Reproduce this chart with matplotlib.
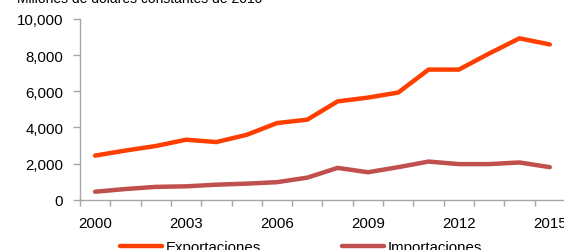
import matplotlib
matplotlib.use('Agg')
import matplotlib.pyplot as plt
import matplotlib.ticker as ticker
from matplotlib.lines import Line2D

plt.rcParams['font.family'] = ['Liberation Sans', 'DejaVu Sans']

# Daten (Millones de dólares constantes de 2010)
anios = list(range(2000, 2016))
exportaciones = [2440, 2720, 2970, 3320, 3190, 3590, 4240, 4430,
                 5440, 5650, 5930, 7200, 7200, 8090, 8930, 8590]
importaciones = [440, 590, 710, 740, 830, 890, 970, 1220,
                 1760, 1520, 1800, 2110, 1970, 1970, 2060, 1800]
etiquetas_x = ['2000', '2003', '2006', '2009', '2012', '2015']

col_exp = '#FF3F00'
col_imp = '#C0504D'
gris = '#A6A6A6'
fs = 10.8

fig = plt.figure(figsize=(5.64, 2.51), dpi=100)
ax = fig.add_axes([0.1418, 0.2004, 0.8599, 0.72])

x = range(len(anios))
ax.plot(x, exportaciones, color=col_exp, lw=3.2, solid_capstyle='round', solid_joinstyle='miter')
ax.plot(x, importaciones, color=col_imp, lw=3.2, solid_capstyle='round', solid_joinstyle='miter')

ax.set_xlim(-0.5, len(anios) - 0.5)
ax.set_ylim(0, 10000)

# x: Beschriftung in der Mitte, Striche an den Grenzen
ax.set_xticks([anios.index(int(e)) for e in etiquetas_x])
ax.set_xticklabels(etiquetas_x)
ax.set_xticks([i - 0.5 for i in range(len(anios) + 1)], minor=True)
ax.tick_params(axis='x', which='major', length=0, pad=12, labelsize=fs)
ax.tick_params(axis='x', which='minor', length=4, width=1, color=gris, direction='out')

ax.yaxis.set_major_locator(ticker.MultipleLocator(2000))
ax.yaxis.set_major_formatter(ticker.FuncFormatter(lambda v, p: f'{int(v):,}'))
ax.tick_params(axis='y', length=5, width=1, color=gris, pad=7, labelsize=fs)

for s in ['top', 'right']:
    ax.spines[s].set_visible(False)
for s in ['left', 'bottom']:
    ax.spines[s].set_color(gris)
    ax.spines[s].set_linewidth(1)

fig.text(0.03, 1 - 3 / 251, 'Millones de dólares constantes de 2010',
         fontsize=10, va='baseline', ha='left')

handles = [Line2D([], [], color=col_exp, lw=3.2, solid_capstyle='round'),
           Line2D([], [], color=col_imp, lw=3.2, solid_capstyle='round')]
fig.legend(handles, ['Exportaciones', 'Importaciones'], ncol=2, frameon=False,
           loc='center left', bbox_to_anchor=(0.2128, 0.01), fontsize=fs,
           handlelength=2.8, handletextpad=0.27, columnspacing=5.35,
           borderaxespad=0, borderpad=0)

fig.savefig('out.png', dpi=100)
